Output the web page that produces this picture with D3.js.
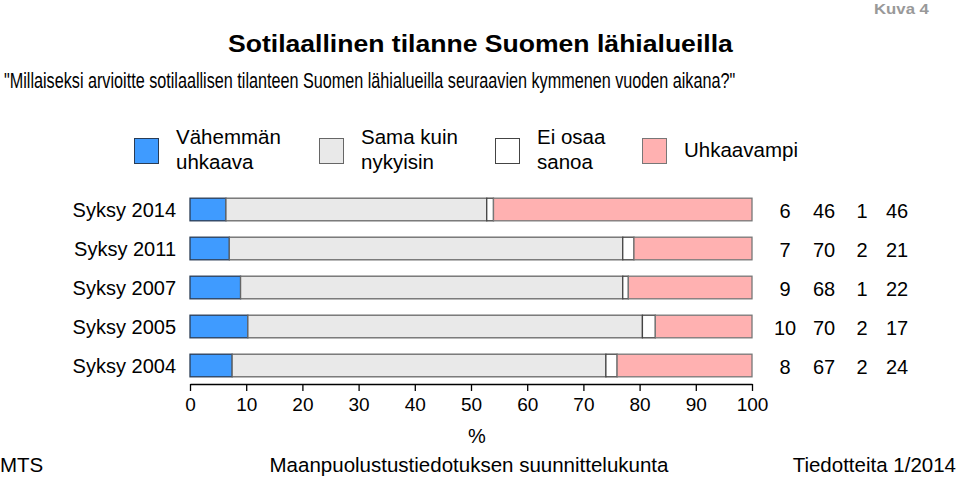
<!DOCTYPE html>
<html><head><meta charset="utf-8">
<script src="https://cdn.jsdelivr.net/npm/d3@7"></script>
<style>body{margin:0;background:#fff}svg{display:block;font-family:Arial,"Liberation Sans",sans-serif}</style>
</head><body><svg id="c" width="959" height="478"></svg>
<script>
const categories = ["Syksy 2014","Syksy 2011","Syksy 2007","Syksy 2005","Syksy 2004"];
const seriesNames = [["Vähemmän","uhkaava"],["Sama kuin","nykyisin"],["Ei osaa","sanoa"],["Uhkaavampi"]];
// bar lengths (%)
const lessThreat = [6.4, 7.0, 9.0, 10.3, 7.5];
const same = [46.4, 70.0, 68.0, 70.2, 66.5];
const dontKnow = [1.2, 2.0, 1.0, 2.3, 2.0];
const moreThreat = [46.0, 21.0, 22.0, 17.2, 24.0];
// printed (rounded) values
const labelLess = [6, 7, 9, 10, 8];
const labelSame = [46, 70, 68, 70, 67];
const labelDK = [1, 2, 1, 2, 2];
const labelMore = [46, 21, 22, 17, 24];
const xTicks = [0,10,20,30,40,50,60,70,80,90,100];
const colors = ["#3f9bff","#e9e9e9","#ffffff","#ffb1b1"];
const strokes = ["#2a3c55","#666666","#444444","#777777"];

const svg = d3.select("#c");
const x = d3.scaleLinear().domain([0,100]).range([190,752]);
const y = d3.scaleBand().domain(categories).range([190,385]).paddingInner(0.42).paddingOuter(0.21);

const series = [lessThreat, same, dontKnow, moreThreat];
const labels = [labelLess, labelSame, labelDK, labelMore];
const rows = categories.map((c,i)=>({cat:c, vals: series.map(s=>s[i])}));

// text fitted horizontally to a given width by scaling
function fitted(txt, x0, y0, w, size, weight, fill){
  const t = svg.append("text").attr("x",0).attr("y",0).attr("font-size",size).attr("font-weight",weight||"normal").attr("fill",fill||"#000").text(txt);
  const nat = t.node().getComputedTextLength();
  t.attr("transform",`translate(${x0},${y0}) scale(${w/nat},1)`);
  return t;
}
fitted("Kuva 4", 874, 14, 55, 14.5, "bold", "#999");
fitted("Sotilaallinen tilanne Suomen lähialueilla", 228, 52, 505, 24.5, "bold");
fitted("\"Millaiseksi arvioitte sotilaallisen tilanteen Suomen lähialueilla seuraavien kymmenen vuoden aikana?\"", 4, 88, 732, 21.5);

// legend
const legX = [134, 319, 495, 642];
seriesNames.forEach((n,k)=>{
  svg.append("rect").attr("x",legX[k]+0.5).attr("y",138.5).attr("width",24).attr("height",25).attr("fill",colors[k]).attr("stroke",strokes[k]);
  const t = svg.append("text").attr("x",legX[k]+42).attr("font-size",20.5).attr("fill","#000");
  if(n.length===2){
    t.append("tspan").attr("x",legX[k]+42).attr("y",144).text(n[0]);
    t.append("tspan").attr("x",legX[k]+42).attr("y",169).text(n[1]);
  } else {
    t.attr("y",157).text(n[0]);
  }
});

// bars
const g = svg.append("g");
rows.forEach((r,i)=>{
  let acc=0;
  r.vals.forEach((v,k)=>{
    g.append("rect").attr("x",x(acc)).attr("y",y(r.cat)).attr("width",x(acc+v)-x(acc)).attr("height",y.bandwidth())
      .attr("fill",colors[k]).attr("stroke",strokes[k]).attr("stroke-width",1.3);
    acc+=v;
  });
  svg.append("text").attr("x",176).attr("y",y(r.cat)+y.bandwidth()/2+7).attr("text-anchor","end").attr("font-size",20).text(r.cat);
  const cx=[785,824,862,897];
  labels.forEach((L,k)=>{
    svg.append("text").attr("x",cx[k]).attr("y",y(r.cat)+y.bandwidth()/2+8).attr("text-anchor","middle").attr("font-size",20).text(L[i]);
  });
});

// axis
const ax = svg.append("g").attr("transform","translate(0,384)").call(d3.axisBottom(x).tickValues(xTicks).tickSize(7).tickPadding(7).tickSizeOuter(0));
ax.select(".domain").attr("stroke","#000").attr("stroke-width",1.3);
ax.selectAll(".tick line").attr("stroke","#000").attr("stroke-width",1.3);
ax.selectAll(".tick text").attr("font-size",19).attr("font-family","Arial,'Liberation Sans',sans-serif").attr("fill","#000");
svg.append("text").attr("x",477).attr("y",443).attr("text-anchor","middle").attr("font-size",20).text("%");

// footer
svg.append("text").attr("x",0).attr("y",472).attr("font-size",20.5).text("MTS");
svg.append("text").attr("x",469).attr("y",472).attr("text-anchor","middle").attr("font-size",20.5).text("Maanpuolustustiedotuksen suunnittelukunta");
svg.append("text").attr("x",956).attr("y",472).attr("text-anchor","end").attr("font-size",20.5).text("Tiedotteita 1/2014");
</script></body></html>
